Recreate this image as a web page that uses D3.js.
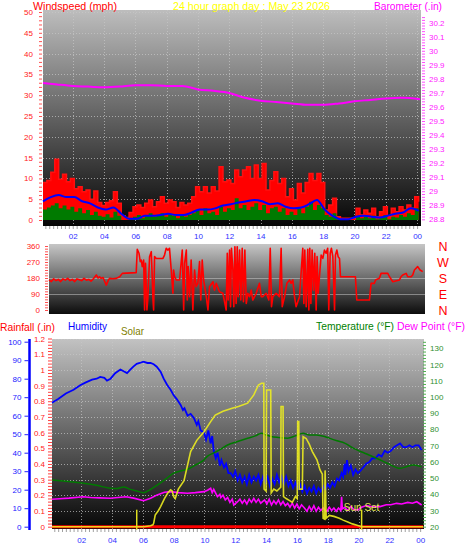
<!DOCTYPE html>
<html><head><meta charset="utf-8">
<script src="https://cdn.jsdelivr.net/npm/d3@7/dist/d3.min.js"></script>
<style>body{margin:0;background:#fff;}svg{display:block;font-family:"Liberation Sans",Arial,sans-serif;}</style>
</head><body><svg id="c" width="470" height="554"></svg>
<script>
// ---------- DATA ----------
const hourTicks = [2,4,6,8,10,12,14,16,18,20,22,24];
const hourLabels = ["02","04","06","08","10","12","14","16","18","20","22","00"];
const windTicks = [0,5,10,15,20,25,30,35,40,45,50];
const baroTicks = [28.8,28.9,29,29.1,29.2,29.3,29.4,29.5,29.6,29.7,29.8,29.9,30,30.1,30.2];
const dirTicks = [0,90,180,270,360];
const dirLabels = ["N","E","S","W","N"];
const humTicks = [0,10,20,30,40,50,60,70,80,90,100];
const rainTicks = [0,0.1,0.2,0.3,0.4,0.5,0.6,0.7,0.8,0.9,1,1.1,1.2];
const tempTicks = [20,30,40,50,60,70,80,90,100,110,120,130];

// wind samples every 15 min starting 00:06
const windStart = 0.1, windStep = 0.25;
const gust = [9,9.5,11.5,14.6,9.8,11,9.2,10,7.5,8,6.8,7.2,5,7,4.2,3.5,4.2,4.6,6.8,4,1,0.6,1.8,3.2,3.6,3,4,4.8,3.2,4.4,5.6,4,4.8,4.4,3,4.2,3.6,4,5.6,8,6.8,8,6.5,8,7,12.8,9.2,9.6,8.8,12,10.4,12,12.8,10,13.2,10,13.6,7.2,9.5,11.6,8.8,10,5.6,7.5,4.8,8.8,6.5,9,11.2,9.5,11.2,9,2.4,3.6,5.2,0.8,0.4,0.4,0.4,0.4,2.8,1.2,2.4,1.6,2.8,0.8,2,3.2,0.8,2.8,2,3.2,2.4,3.6,2.8,5.6,4.4];
const speed = [2.5,3,3.5,4,2.8,3.5,2.5,3.2,2,2.8,1.6,2.4,1.2,2,1,0.8,1.4,0.6,2,1,0,0,0.4,0.8,1.2,0.4,1,1.6,0.8,1.2,1.6,0.8,1.4,1,0.4,1.2,0.8,1.2,1.6,2.4,1.2,2.8,1.6,2,1.2,3.2,2,2.8,2.4,5.2,2.8,3.6,2.4,3.2,4,2.4,3.6,1.6,2.8,3.2,2,2.8,1.2,2,1.2,2.8,1.6,3.2,4.4,2.4,3.6,2.8,1.2,0.8,1.6,0.2,0,0,0,0,1,0.4,0.8,0.4,1,0.2,0.6,1.2,0.2,0.8,0.6,1.2,0.8,1.6,1.2,2.8,2];
// average every 30 min
const avgStep = 0.5;
const avgWind = [4.5,5.5,6,5.5,5.5,4.5,4,3,2.5,3,1.5,0.3,0.3,1,1,1.2,1.5,1.2,1.2,1.8,2.5,2.5,2.8,3.5,3.8,4.2,4.5,4.8,4.5,3.8,4,3.2,2.8,3,3.8,4.8,2.5,1,0.2,0.2,0.8,1,0.8,0.6,1,1.5,1.8,2.8,2.2];

const barometer = [[0.1,29.77],[1,29.76],[2,29.75],[3,29.745],[4,29.74],[5,29.745],[6,29.755],[7,29.755],[8,29.75],[9,29.75],[10,29.725],[11,29.715],[12,29.70],[13,29.665],[14,29.645],[15,29.635],[16,29.625],[17,29.615],[18,29.615],[19,29.625],[20,29.64],[21,29.65],[22,29.66],[23,29.665],[24.2,29.655]];

const windDir = [[0.1,170],[0.25,160],[0.4,175],[0.55,165],[0.7,172],[0.85,160],[1.0,175],[1.15,168],[1.3,178],[1.45,165],[1.6,172],[1.75,160],[1.9,175],[2.05,170],[2.2,165],[2.35,178],[2.5,168],[2.65,172],[2.8,162],[2.95,176],[3.14,197],[3.25,180],[3.35,187],[3.45,178],[3.57,183],[3.78,140],[3.9,165],[3.99,178],[4.2,176],[4.42,178],[4.64,187],[4.81,206],[5.7,210],[5.77,341],[5.88,319],[5.96,272],[6.03,281],[6.09,244],[6.18,281],[6.24,0],[6.30,262],[6.39,0],[6.45,66],[6.56,300],[6.67,328],[6.78,56],[6.82,0],[6.88,300],[6.99,290],[7.42,290],[7.52,309],[7.63,347],[7.74,337],[7.84,347],[7.95,225],[8.06,94],[8.10,225],[8.17,187],[8.27,169],[8.49,169],[8.66,337],[8.75,0],[8.81,262],[8.92,337],[8.98,56],[9.04,244],[9.13,75],[9.23,281],[9.34,0],[9.45,225],[9.55,131],[9.66,150],[9.77,272],[9.85,56],[9.94,281],[10.03,169],[10.20,75],[10.31,0],[10.41,131],[10.63,159],[10.73,112],[10.84,150],[11.05,103],[11.27,94],[11.48,0],[11.55,319],[11.61,56],[11.70,337],[11.76,19],[11.82,347],[11.91,225],[11.97,19],[12.04,356],[12.12,37],[12.19,356],[12.25,75],[12.34,337],[12.42,56],[12.51,347],[12.59,47],[12.68,337],[12.77,37],[12.87,94],[12.98,75],[13.09,112],[13.19,56],[13.41,94],[13.62,150],[13.73,75],[13.83,75],[14.05,94],[14.22,56],[14.31,347],[14.39,19],[14.48,75],[14.69,94],[14.90,75],[15.01,347],[15.08,19],[15.23,75],[15.38,150],[15.55,169],[15.65,150],[15.76,169],[15.87,75],[15.97,19],[16.19,75],[16.40,347],[16.47,37],[16.53,337],[16.62,19],[16.72,341],[16.79,0],[16.85,347],[16.92,37],[17.00,337],[17.09,112],[17.17,319],[17.26,0],[17.32,300],[17.39,94],[17.47,187],[17.58,309],[17.69,290],[17.79,337],[17.90,319],[18.00,347],[18.07,0],[18.16,319],[18.24,347],[18.33,300],[18.44,0],[18.50,309],[18.59,337],[18.67,300],[18.76,290],[18.82,187],[19.78,187],[19.87,56],[20.68,56],[20.79,150],[21.00,150],[21.07,169],[21.32,178],[21.43,206],[21.86,206],[21.97,187],[22.18,159],[22.61,169],[22.71,187],[22.82,197],[23.04,206],[23.14,187],[23.36,187],[23.46,197],[23.57,225],[23.78,244],[23.93,225],[24.10,216]];

const humidity = [[0.1,67],[0.5,69],[1,72],[1.5,74],[1.93,76.5],[2.3,78],[2.7,79.5],[3.0,80],[3.23,81],[3.5,80.5],[3.67,79],[3.9,80],[4.2,83],[4.54,85],[4.75,84],[4.97,83],[5.2,85],[5.38,86.5],[5.6,88],[5.8,88.5],[6.03,89.2],[6.3,88.5],[6.5,88.5],[6.7,87.8],[6.9,86.5],[7.15,83.8],[7.35,80],[7.58,76.6],[7.8,74],[8.0,71],[8.2,69],[8.45,65.8],[8.6,63],[8.7,64],[8.9,60],[9.1,61],[9.32,58.6],[9.5,55],[9.6,57],[9.75,52],[9.97,51],[10.1,47],[10.25,52],[10.4,45],[10.5,49],[10.6,41],[10.73,37],[10.85,40],[11.0,33],[11.1,36],[11.27,32],[11.4,34],[11.55,29],[11.7,29],[11.85,27],[12.0,30],[12.15,25],[12.3,28],[12.45,24],[12.6,27],[12.75,23],[12.9,28],[13.05,24],[13.2,27],[13.35,25],[13.5,28],[13.65,23],[13.8,27],[13.95,24],[14.1,27],[14.25,22],[14.4,26],[14.55,23],[14.7,28],[14.85,24],[15.0,27],[15.15,23],[15.3,27],[15.45,22],[15.6,25],[15.75,21],[15.9,24],[16.05,20],[16.2,23],[16.35,19],[16.5,22],[16.65,18],[16.8,21],[16.95,19],[17.1,22],[17.25,18],[17.4,21],[17.55,19],[17.7,22],[17.85,20],[18.0,23],[18.15,21],[18.3,24],[18.45,22],[18.6,26],[18.75,25],[18.9,29],[19.0,27],[19.1,34],[19.15,28],[19.25,36],[19.35,30],[19.5,33],[19.65,28],[19.8,31],[19.95,29],[20.1,30],[20.3,32],[20.5,34],[20.7,35],[20.9,37],[21.1,37],[21.3,39],[21.5,38],[21.7,41],[21.9,40],[22.1,41],[22.3,43],[22.5,44],[22.7,45],[22.9,43],[23.1,43],[23.3,44],[23.5,43],[23.7,44],[23.9,44],[24.1,41.5]];

const temperature = [[0.1,48.8],[1,48],[2.14,46.8],[3,45.5],[3.88,43.7],[4.3,43.5],[4.75,44.5],[5.2,43],[5.6,42],[6.05,41],[6.5,43],[6.93,45.7],[7.5,49.5],[8.0,53],[8.5,54.5],[8.89,55.4],[9.5,58.5],[9.97,61.2],[10.2,63.5],[10.6,65.5],[11.0,67.5],[11.5,70.4],[12.15,72.5],[12.8,74.5],[13.3,76],[13.7,77.6],[14.0,76.5],[14.32,75.6],[14.8,75],[15.4,74.6],[15.9,76],[16.4,77.6],[16.8,76.5],[17.26,76.6],[17.8,75.6],[18.1,74.6],[18.6,73],[19.1,71.5],[19.65,68.4],[20.4,65.3],[21.17,62.2],[21.9,59],[22.69,56],[23.1,57],[23.56,58],[24.1,57]];

const dewPoint = [[0.1,36.9],[0.6,37.2],[1.2,37.6],[2.14,38.5],[2.6,38],[3.2,37.8],[3.88,37.5],[4.4,38],[4.9,38.5],[5.4,37.6],[6.05,36],[6.5,37.5],[6.93,39.6],[7.4,41.2],[7.8,41.6],[8.3,41],[8.89,40.6],[9.4,41],[9.97,41.6],[10.2,42.5],[10.4,43.7],[10.5,41],[10.6,43],[10.84,38.5],[11.0,40],[11.06,38],[11.2,39.5],[11.35,36.5],[11.5,38],[11.65,35],[11.8,37],[11.9,33.4],[12.15,35.4],[12.3,37],[12.45,34.5],[12.6,36.5],[12.75,34],[12.9,37],[13.05,35],[13.2,37.5],[13.35,35],[13.5,37],[13.65,34.5],[13.9,36.5],[14.05,34],[14.2,37],[14.35,33.5],[14.5,36],[14.65,34],[14.8,36.5],[14.95,33.5],[15.1,35.5],[15.25,33],[15.4,34.4],[15.55,32],[15.7,34.5],[15.85,31.5],[16.0,34],[16.15,31],[16.3,33.5],[16.5,31.4],[16.65,29.5],[16.8,32.5],[16.95,30],[17.1,33],[17.25,29.5],[17.4,32],[17.55,30],[17.7,31.5],[17.8,30.4],[17.95,29.5],[18.1,32],[18.25,30],[18.4,31.5],[18.55,29.5],[18.7,31.5],[18.85,30],[18.9,38.5],[18.95,31],[19.1,32],[19.3,30],[19.5,32.5],[19.7,30.5],[19.97,30.4],[20.2,32],[20.5,33],[20.8,32.4],[21.1,32.5],[21.4,32.4],[21.8,33.5],[22.1,33.5],[22.47,34.4],[22.8,34],[23.2,35],[23.5,34.5],[23.78,35.4],[24.1,33.4]];

const solar = [[0.1,0],[6.05,0],[6.5,5],[6.65,10],[6.7,18],[6.8,62],[7.0,85],[7.15,107],[7.4,150],[7.6,178],[7.8,196],[7.9,190],[8.0,160],[8.1,150],[8.3,200],[8.67,245],[9.1,400],[9.5,460],[9.97,506],[10.4,560],[10.7,595],[11.2,615],[11.8,631],[12.2,640],[12.8,658],[13.2,702],[13.5,755],[13.7,764],[13.85,764],[13.87,200],[14.0,190],[14.03,728],[14.3,728],[14.33,180],[14.5,200],[14.7,190],[14.95,210],[14.97,640],[15.1,640],[15.13,160],[15.3,150],[15.5,140],[15.7,130],[15.9,160],[16.02,150],[16.05,560],[16.12,560],[16.15,200],[16.35,200],[16.4,480],[16.6,470],[16.8,440],[17.0,400],[17.3,356],[17.5,302],[17.65,280],[17.7,45],[17.8,40],[17.83,300],[17.9,45],[18.1,60],[18.4,55],[18.75,45],[19.0,35],[19.3,25],[19.6,15],[19.9,8],[20.2,0],[24.2,0]];

const rainfall = [[0.1,0],[24.2,0]];
const sunRise = 5.6, sunSet = 20.2;

// ---------- SETUP ----------
const svg = d3.select("#c");
const defs = svg.append("defs");
function grad(id, c0, c1){
  const g = defs.append("linearGradient").attr("id",id).attr("x1",0).attr("y1",0).attr("x2",0).attr("y2",1);
  g.append("stop").attr("offset","0%").attr("stop-color",c0);
  g.append("stop").attr("offset","100%").attr("stop-color",c1);
}
grad("g1","#bdbdbd","#050505");
grad("g2","#c6c6c6","#0c0c0c");
grad("g3","#c2c2c2","#060606");

const tDom = [0.1, 24.25];
const P1 = {l:43, r:421, t:10, b:226};
const P2 = {l:49, r:425, t:244, b:314};
const P3 = {l:52, r:424, t:339, b:529};

const x1 = d3.scaleLinear().domain(tDom).range([P1.l, P1.r]);
const x2 = d3.scaleLinear().domain(tDom).range([P2.l, P2.r]);
const x3 = d3.scaleLinear().domain(tDom).range([P3.l, P3.r]);
const yW = d3.scaleLinear().domain([0,50]).range([220,12]);
const yB = d3.scaleLinear().domain([28.8,30.2]).range([219.3,22.7]);
const yD = d3.scaleLinear().domain([0,360]).range([310,246]);
const yH = d3.scaleLinear().domain([0,100]).range([526.7,341.7]);
const yR = d3.scaleLinear().domain([0,1.2]).range([526.7,338.5]);
const yT = d3.scaleLinear().domain([20,130]).range([526.7,348.3]);
const yS = d3.scaleLinear().domain([0,1000]).range([526.7,339]);

function panel(P, g){
  svg.append("rect").attr("x",P.l).attr("y",P.t).attr("width",P.r-P.l).attr("height",P.b-P.t).attr("fill","url(#"+g+")");
}
panel(P1,"g1"); panel(P2,"g2"); panel(P3,"g3");

const gridStyle = s => s.attr("stroke","#c8c8c8").attr("stroke-opacity",0.7).attr("stroke-width",1).attr("stroke-dasharray","1,2");

// grids panel 1
svg.append("g").selectAll("line").data(hourTicks).join("line")
  .attr("x1",d=>Math.round(x1(d))+0.5).attr("x2",d=>Math.round(x1(d))+0.5).attr("y1",P1.t).attr("y2",P1.b).call(gridStyle);
svg.append("g").selectAll("line").data(windTicks.slice(1)).join("line")
  .attr("x1",P1.l).attr("x2",P1.r).attr("y1",d=>Math.round(yW(d))+0.5).attr("y2",d=>Math.round(yW(d))+0.5).call(gridStyle);
// grids panel 3
svg.append("g").selectAll("line").data(hourTicks.slice(0,-1)).join("line")
  .attr("x1",d=>Math.round(x3(d))+0.5).attr("x2",d=>Math.round(x3(d))+0.5).attr("y1",P3.t).attr("y2",P3.b).call(gridStyle);
svg.append("g").selectAll("line").data(rainTicks.slice(1)).join("line")
  .attr("x1",P3.l).attr("x2",P3.r).attr("y1",d=>Math.round(yR(d))+0.5).attr("y2",d=>Math.round(yR(d))+0.5).call(gridStyle);
// panel 2 light lines
svg.append("g").selectAll("line").data([90,180]).join("line")
  .attr("x1",P2.l).attr("x2",P2.r).attr("y1",d=>Math.round(yD(d))+0.5).attr("y2",d=>Math.round(yD(d))+0.5)
  .attr("stroke","#d0d0d0").attr("stroke-opacity",0.5);

// ---------- PANEL 1 SERIES ----------
const gustData = gust.map((v,i)=>[windStart+i*windStep, v]);
const speedData = speed.map((v,i)=>[windStart+i*windStep, v]);
const avgData = avgWind.map((v,i)=>[windStart+i*avgStep, v]);

const areaW = d3.area().x(d=>x1(d[0])).y0(yW(0)).y1(d=>yW(d[1])).curve(d3.curveStepAfter);
svg.append("path").datum(gustData).attr("d",areaW).attr("fill","#ff0000");
svg.append("path").datum(gustData).attr("d",d3.line().x(d=>x1(d[0])).y(d=>yW(d[1])).curve(d3.curveStepAfter))
  .attr("fill","none").attr("stroke","#ff1010").attr("stroke-width",1.5);
svg.append("path").datum(speedData).attr("d",areaW).attr("fill","#007a00");
svg.append("path").datum(avgData).attr("d",d3.line().x(d=>x1(d[0])).y(d=>yW(d[1])).curve(d3.curveMonotoneX))
  .attr("fill","none").attr("stroke","#0000ff").attr("stroke-width",2);
svg.append("path").datum(barometer).attr("d",d3.line().x(d=>x1(d[0])).y(d=>yB(d[1])).curve(d3.curveMonotoneX))
  .attr("fill","none").attr("stroke","#ff00ff").attr("stroke-width",2);

// ---------- PANEL 2 ----------
svg.append("path").datum(windDir).attr("d",d3.line().x(d=>x2(d[0])).y(d=>yD(d[1])))
  .attr("fill","none").attr("stroke","#ff0000").attr("stroke-width",1.6).attr("stroke-linejoin","round");

// ---------- PANEL 3 ----------
svg.append("path").datum(humidity).attr("d",d3.line().x(d=>x3(d[0])).y(d=>yH(d[1])))
  .attr("fill","none").attr("stroke","#0000ff").attr("stroke-width",1.8);
svg.append("path").datum(temperature).attr("d",d3.line().x(d=>x3(d[0])).y(d=>yT(d[1])).curve(d3.curveMonotoneX))
  .attr("fill","none").attr("stroke","#007a00").attr("stroke-width",1.5);
svg.append("path").datum(dewPoint).attr("d",d3.line().x(d=>x3(d[0])).y(d=>yT(d[1])))
  .attr("fill","none").attr("stroke","#ff00ff").attr("stroke-width",1.6);
svg.append("path").datum(rainfall).attr("d",d3.line().x(d=>x3(d[0])).y(d=>yR(d[1])))
  .attr("fill","none").attr("stroke","#ff0000").attr("stroke-width",3);
svg.append("path").datum(solar).attr("d",d3.line().x(d=>x3(d[0])).y(d=>yS(d[1])))
  .attr("fill","none").attr("stroke","#ecec20").attr("stroke-width",1.6).attr("stroke-opacity",0.9);
// sun markers
svg.append("g").selectAll("line").data([sunRise,sunSet]).join("line")
  .attr("x1",d=>x3(d)).attr("x2",d=>x3(d)).attr("y1",yS(0)+3).attr("y2",yS(0)-17)
  .attr("stroke","#e0e020").attr("stroke-width",1.5);
svg.append("text").attr("x",x3(sunSet)).attr("y",yS(0)-16).attr("text-anchor","middle")
  .attr("font-size",10).attr("fill","#e8e850").text("Sun Set");

// ---------- AXES ----------
function styleAxis(g, color, size){
  g.select(".domain").remove();
  g.selectAll("line").attr("stroke",color);
  g.selectAll("text").attr("fill",color).attr("font-size",size||8).attr("font-family","Liberation Sans, Arial, sans-serif");
}
function minor(scale, from, to, step){ return d3.range(from, to+step/2, step); }

// panel1 left (wind)
svg.append("g").attr("transform","translate(42,0)").call(d3.axisLeft(yW).tickValues(minor(yW,0,50,1)).tickSize(3).tickFormat(""))
  .call(g=>styleAxis(g,"#ff5050"));
svg.append("g").attr("transform","translate(42,0)").call(d3.axisLeft(yW).tickValues(windTicks).tickSize(0).tickPadding(9))
  .call(g=>styleAxis(g,"#ff2020"));
// panel1 right (barometer)
svg.append("g").attr("transform","translate(422,0)").call(d3.axisRight(yB).tickValues(minor(yB,28.8,30.24,0.02)).tickSize(3).tickFormat(""))
  .call(g=>styleAxis(g,"#ff50ff"));
svg.append("g").attr("transform","translate(422,0)").call(d3.axisRight(yB).tickValues(baroTicks).tickSize(0).tickPadding(7).tickFormat(d=>d3.format("~g")(+d.toFixed(1))))
  .call(g=>styleAxis(g,"#ff20ff"));
// panel1 bottom minor ticks + hour labels
svg.append("g").attr("transform",`translate(0,${P1.b})`).call(d3.axisBottom(x1).tickValues(minor(x1,0.25,24,0.25)).tickSize(3).tickFormat(""))
  .call(g=>styleAxis(g,"#a0a0a0"));
svg.append("g").attr("transform",`translate(0,${P1.b})`).call(d3.axisBottom(x1).tickValues(hourTicks).tickSize(0).tickPadding(7).tickFormat((d,i)=>hourLabels[i]))
  .call(g=>styleAxis(g,"#3030ff"));

// panel2 left
svg.append("g").attr("transform","translate(48,0)").call(d3.axisLeft(yD).tickValues(minor(yD,0,360,15)).tickSize(3).tickFormat(""))
  .call(g=>styleAxis(g,"#ff5050"));
svg.append("g").attr("transform","translate(48,0)").call(d3.axisLeft(yD).tickValues(dirTicks).tickSize(0).tickPadding(8))
  .call(g=>styleAxis(g,"#ff2020"));
// panel2 right compass
svg.append("g").selectAll("text").data(dirTicks).join("text")
  .attr("x",443).attr("y",d=>yD(d)).attr("dy","0.36em").attr("text-anchor","middle")
  .attr("font-size",12.5).attr("fill","#ff0000").text((d,i)=>dirLabels[i]);

// panel3 humidity (blue)
svg.append("line").attr("x1",29.5).attr("x2",29.5).attr("y1",P3.t).attr("y2",P3.b+1).attr("stroke","#0000ff").attr("stroke-width",2.5);
svg.append("g").attr("transform","translate(28.5,0)").call(d3.axisLeft(yH).tickValues(humTicks).tickSize(4).tickPadding(3))
  .call(g=>styleAxis(g,"#2020ff"));
// rainfall (red)
svg.append("g").attr("transform","translate(52,0)").call(d3.axisLeft(yR).tickValues(minor(yR,0,1.2,0.02)).tickSize(4).tickFormat(""))
  .call(g=>styleAxis(g,"#ff4040"));
svg.append("g").attr("transform","translate(52,0)").call(d3.axisLeft(yR).tickValues(rainTicks).tickSize(0).tickPadding(7).tickFormat(d=>d3.format("~g")(+d.toFixed(1))))
  .call(g=>styleAxis(g,"#ff2020"));
// temperature (green)
svg.append("g").attr("transform","translate(423,0)").call(d3.axisRight(yT).tickValues(minor(yT,20,134,2)).tickSize(3).tickFormat(""))
  .call(g=>styleAxis(g,"#50b050"));
svg.append("g").attr("transform","translate(423,0)").call(d3.axisRight(yT).tickValues(tempTicks).tickSize(0).tickPadding(7))
  .call(g=>styleAxis(g,"#309030"));
// bottom x
svg.append("g").attr("transform",`translate(0,${P3.b})`).call(d3.axisBottom(x3).tickValues(minor(x3,0.25,24,0.25)).tickSize(3).tickFormat(""))
  .call(g=>styleAxis(g,"#a0a0a0"));
svg.append("g").attr("transform",`translate(0,${P3.b})`).call(d3.axisBottom(x3).tickValues(hourTicks).tickSize(0).tickPadding(8).tickFormat((d,i)=>hourLabels[i]))
  .call(g=>styleAxis(g,"#3030ff"));

// ---------- TITLES ----------
function title(txt, x, y, color, w, size){
  svg.append("text").attr("x",x).attr("y",y).attr("fill",color).attr("font-size",size||11)
    .attr("textLength",w).attr("lengthAdjust","spacingAndGlyphs").text(txt);
}
title("Windspeed (mph)", 33, 10, "#ff0000", 84);
title("24 hour graph day : May 23 2026", 173, 10, "#ffff00", 157);
title("Barometer (.in)", 374, 10, "#ff00ff", 68);
title("Rainfall (.in)", 0, 331, "#ff0000", 55);
title("Humidity", 68, 330, "#0000ff", 39);
title("Solar", 121, 335, "#808000", 23);
title("Temperature (°F)", 316, 330, "#008000", 78);
title("Dew Point (°F)", 397, 330, "#ff00ff", 68);
</script></body></html>
